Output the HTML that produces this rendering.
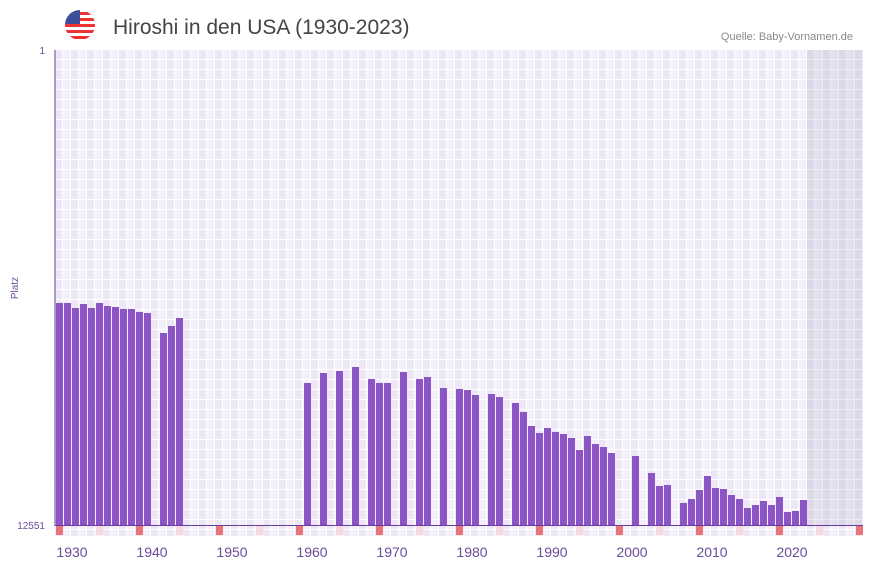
<!DOCTYPE html>
<html><head><meta charset="utf-8"><style>
body{margin:0;background:#fff;width:873px;height:567px;overflow:hidden;font-family:"Liberation Sans",sans-serif}
</style></head><body>
<svg width="873" height="567" xmlns="http://www.w3.org/2000/svg">
<defs>
<pattern id="g" x="55" y="50" width="16" height="10" patternUnits="userSpaceOnUse">
<rect width="16" height="10" fill="#f3f0fa"/><rect width="8" height="10" fill="#ece7f7"/>
<rect x="0" y="9" width="16" height="1" fill="#fff"/><rect x="7" y="0" width="1" height="10" fill="#fff"/><rect x="15" y="0" width="1" height="10" fill="#fff"/>
</pattern>
<clipPath id="f"><circle cx="80" cy="25" r="15"/></clipPath>
</defs>
<g clip-path="url(#f)">
<rect x="65" y="10" width="30" height="30" fill="#fff"/>
<rect x="65" y="12" width="30" height="3" fill="#e33"/><rect x="65" y="18" width="30" height="3" fill="#e33"/><rect x="65" y="24" width="30" height="3" fill="#e33"/><rect x="65" y="30" width="30" height="3" fill="#e33"/><rect x="65" y="36" width="30" height="3" fill="#e33"/>
<rect x="65" y="10" width="15" height="14" fill="#3c4d9a"/>
</g>
<text x="113" y="34" font-size="21" fill="#444">Hiroshi in den USA (1930-2023)</text>
<text x="853" y="40" font-size="11" fill="#888" text-anchor="end">Quelle: Baby-Vornamen.de</text>
<rect x="55" y="50" width="808" height="475" fill="url(#g)"/>
<rect x="807" y="50" width="56" height="475" fill="#8a7fa0" opacity="0.15"/>
<rect x="55" y="526" width="808" height="10" fill="url(#g)"/>
<g fill="#e8737a">
<rect x="56" y="526" width="7" height="9"/><rect x="136" y="526" width="7" height="9"/><rect x="216" y="526" width="7" height="9"/><rect x="296" y="526" width="7" height="9"/><rect x="376" y="526" width="7" height="9"/><rect x="456" y="526" width="7" height="9"/><rect x="536" y="526" width="7" height="9"/><rect x="616" y="526" width="7" height="9"/><rect x="696" y="526" width="7" height="9"/><rect x="776" y="526" width="7" height="9"/><rect x="856" y="526" width="7" height="9"/>
</g>
<g fill="#f5d8e0">
<rect x="96" y="526" width="7" height="9"/><rect x="176" y="526" width="7" height="9"/><rect x="256" y="526" width="7" height="9"/><rect x="336" y="526" width="7" height="9"/><rect x="416" y="526" width="7" height="9"/><rect x="496" y="526" width="7" height="9"/><rect x="576" y="526" width="7" height="9"/><rect x="656" y="526" width="7" height="9"/><rect x="736" y="526" width="7" height="9"/><rect x="816" y="526" width="7" height="9"/>
</g>
<g fill="#8b55c6">
<rect x="56" y="303" width="7" height="222"/><rect x="64" y="303" width="7" height="222"/><rect x="72" y="308" width="7" height="217"/><rect x="80" y="304" width="7" height="221"/><rect x="88" y="308" width="7" height="217"/><rect x="96" y="303" width="7" height="222"/><rect x="104" y="306" width="7" height="219"/><rect x="112" y="307" width="7" height="218"/><rect x="120" y="309" width="7" height="216"/><rect x="128" y="309" width="7" height="216"/><rect x="136" y="312" width="7" height="213"/><rect x="144" y="313" width="7" height="212"/>
<rect x="160" y="333" width="7" height="192"/><rect x="168" y="326" width="7" height="199"/><rect x="176" y="318" width="7" height="207"/>
<rect x="304" y="383" width="7" height="142"/><rect x="320" y="373" width="7" height="152"/><rect x="336" y="371" width="7" height="154"/><rect x="352" y="367" width="7" height="158"/><rect x="368" y="379" width="7" height="146"/><rect x="376" y="383" width="7" height="142"/><rect x="384" y="383" width="7" height="142"/><rect x="400" y="372" width="7" height="153"/><rect x="416" y="379" width="7" height="146"/><rect x="424" y="377" width="7" height="148"/><rect x="440" y="388" width="7" height="137"/>
<rect x="456" y="389" width="7" height="136"/><rect x="464" y="390" width="7" height="135"/><rect x="472" y="395" width="7" height="130"/><rect x="488" y="394" width="7" height="131"/><rect x="496" y="397" width="7" height="128"/><rect x="512" y="403" width="7" height="122"/><rect x="520" y="412" width="7" height="113"/><rect x="528" y="426" width="7" height="99"/><rect x="536" y="433" width="7" height="92"/><rect x="544" y="428" width="7" height="97"/><rect x="552" y="432" width="7" height="93"/><rect x="560" y="434" width="7" height="91"/><rect x="568" y="438" width="7" height="87"/><rect x="576" y="450" width="7" height="75"/><rect x="584" y="436" width="7" height="89"/><rect x="592" y="444" width="7" height="81"/><rect x="600" y="447" width="7" height="78"/><rect x="608" y="453" width="7" height="72"/>
<rect x="632" y="456" width="7" height="69"/><rect x="648" y="473" width="7" height="52"/><rect x="656" y="486" width="7" height="39"/><rect x="664" y="485" width="7" height="40"/><rect x="680" y="503" width="7" height="22"/><rect x="688" y="499" width="7" height="26"/><rect x="696" y="490" width="7" height="35"/><rect x="704" y="476" width="7" height="49"/><rect x="712" y="488" width="7" height="37"/><rect x="720" y="489" width="7" height="36"/><rect x="728" y="495" width="7" height="30"/><rect x="736" y="499" width="7" height="26"/><rect x="744" y="508" width="7" height="17"/><rect x="752" y="505" width="7" height="20"/><rect x="760" y="501" width="7" height="24"/><rect x="768" y="505" width="7" height="20"/><rect x="776" y="497" width="7" height="28"/><rect x="784" y="512" width="7" height="13"/><rect x="792" y="511" width="7" height="14"/><rect x="800" y="500" width="7" height="25"/>
</g>
<line x1="55" y1="50" x2="55" y2="526" stroke="#6a3d9a" stroke-width="1"/>
<line x1="55" y1="525.5" x2="863" y2="525.5" stroke="#6a3d9a" stroke-width="1"/>
<g fill="#6a4a9a" font-size="10">
<text x="45" y="54" text-anchor="end">1</text>
<text x="45" y="529" text-anchor="end">12551</text>
<text x="18" y="288" text-anchor="middle" transform="rotate(-90 18 288)">Platz</text>
</g>
<g fill="#6a4a9a" font-size="14" text-anchor="middle">
<text x="72" y="557">1930</text><text x="152" y="557">1940</text><text x="232" y="557">1950</text><text x="312" y="557">1960</text><text x="392" y="557">1970</text><text x="472" y="557">1980</text><text x="552" y="557">1990</text><text x="632" y="557">2000</text><text x="712" y="557">2010</text><text x="792" y="557">2020</text>
</g>
</svg>
</body></html>
